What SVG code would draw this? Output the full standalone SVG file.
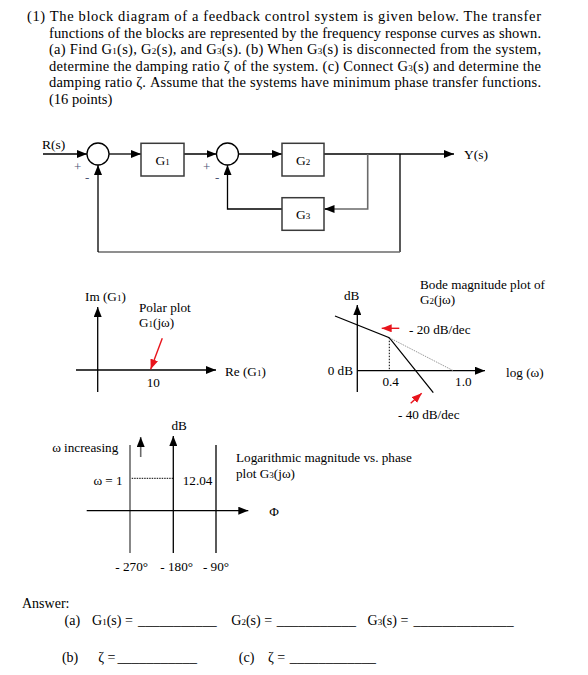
<svg xmlns="http://www.w3.org/2000/svg" width="588" height="675" viewBox="0 0 588 675">
<style>
text{font-family:"Liberation Serif","Times New Roman",serif;fill:#000}
.p{font-size:14.5px}
.m{font-size:13.5px}
.an{font-size:14px}
.sm{font-size:13.2px}
.sub{font-size:9px}
.ln{stroke:#000;stroke-width:1.3;fill:none}
.gr{stroke:#6a6a6a;stroke-width:1.6;fill:none}
.bx{fill:#fff;stroke:#3a3a3a;stroke-width:1.5}
.red{stroke:#e8141c;stroke-width:1.4;fill:none}
.sg{fill:#4a5575;font-size:13px}
</style>
<defs>
<marker id="a" markerUnits="userSpaceOnUse" markerWidth="10" markerHeight="8" refX="10" refY="4" orient="auto"><path d="M0,0 L10,4 L0,8 z" fill="#000"/></marker>
<marker id="r" markerUnits="userSpaceOnUse" markerWidth="10" markerHeight="8" refX="10" refY="4" orient="auto"><path d="M0,0 L10,4 L0,8 z" fill="#e8141c"/></marker>
</defs>

<g id="title" class="p">
<text x="27" y="21" textLength="514" lengthAdjust="spacing">(1) The block diagram of a feedback control system is given below. The transfer</text>
<text x="49" y="37.5" textLength="492" lengthAdjust="spacing">functions of the blocks are represented by the frequency response curves as shown.</text>
<text x="49" y="54" textLength="492" lengthAdjust="spacing">(a) Find G<tspan class="sub">1</tspan>(s), G<tspan class="sub">2</tspan>(s), and G<tspan class="sub">3</tspan>(s). (b) When G<tspan class="sub">3</tspan>(s) is disconnected from the system,</text>
<text x="49" y="70.5" textLength="492" lengthAdjust="spacing">determine the damping ratio ζ of the system. (c) Connect G<tspan class="sub">3</tspan>(s) and determine the</text>
<text x="49" y="87" textLength="492" lengthAdjust="spacing">damping ratio ζ. Assume that the systems have minimum phase transfer functions.</text>
<text x="49" y="103.5">(16 points)</text>
</g>

<g id="connectors">
<path class="ln" d="M43,154 H87" marker-end="url(#a)"/>
<path class="ln" d="M109,154 H141" marker-end="url(#a)"/>
<path class="ln" d="M184,154 H216.5" marker-end="url(#a)"/>
<path class="ln" d="M238.5,154 H282" marker-end="url(#a)"/>
<path class="ln" d="M324,154 H454" marker-end="url(#a)"/>
<path class="gr" d="M367.7,154 V209 H325"/>
<path class="ln" d="M330,209 H324.5" marker-end="url(#a)"/>
<path class="ln" d="M282,209 H227.5 V165" marker-end="url(#a)"/>
<path class="ln" d="M400,154 V252"/>
<path class="gr" d="M400,252 H98"/>
<path class="ln" d="M98,252 V165" marker-end="url(#a)"/>
</g>

<g id="input"><text class="m" x="42" y="149">R(s)</text></g>
<g id="sum1">
<circle cx="98" cy="154" r="11" fill="#fff" stroke="#000" stroke-width="1.3"/>
<text class="sg" x="74" y="171">+</text>
<text class="sg" x="85" y="182">-</text>
</g>
<g id="G1">
<rect class="bx" x="141" y="143.3" width="43" height="32.7"/>
<text class="m" x="162.5" y="164.5" text-anchor="middle">G<tspan class="sub">1</tspan></text>
</g>
<g id="sum2">
<circle cx="227.5" cy="154" r="11" fill="#fff" stroke="#000" stroke-width="1.3"/>
<text class="sg" x="203" y="171">+</text>
<text class="sg" x="215" y="182">-</text>
</g>
<g id="G2">
<rect class="bx" x="282" y="143.3" width="42" height="32.7"/>
<text class="m" x="303" y="164.5" text-anchor="middle">G<tspan class="sub">2</tspan></text>
</g>
<g id="G3">
<rect class="bx" x="282" y="197.7" width="42" height="32.6"/>
<text class="m" x="303" y="218.5" text-anchor="middle">G<tspan class="sub">3</tspan></text>
</g>
<g id="output"><text class="m" x="464" y="159">Y(s)</text></g>

<g id="polar">
<path class="ln" d="M97.7,392 V307" marker-end="url(#a)"/>
<path class="ln" d="M76,370 H216" marker-end="url(#a)"/>
<path class="red" d="M162.3,338.3 L150.7,369.3" marker-end="url(#r)"/>
<text class="sm" x="85" y="300.5">Im (G<tspan class="sub">1</tspan>)</text>
<text class="sm" x="139" y="312">Polar plot</text>
<text class="sm" x="139" y="327">G<tspan class="sub">1</tspan>(jω)</text>
<text class="sm" x="225" y="376">Re (G<tspan class="sub">1</tspan>)</text>
<text class="sm" x="153.3" y="386.5" text-anchor="middle">10</text>
</g>

<g id="bode">
<path class="ln" d="M357.3,392 V305" marker-end="url(#a)"/>
<path class="ln" d="M357.3,370.7 H485" marker-end="url(#a)"/>
<path class="ln" d="M335,316 L389.3,337.7 L433.3,392.7"/>
<path d="M389.3,337.7 L453.3,370.7" stroke="#999" stroke-width="1" stroke-dasharray="1.5,1" fill="none"/>
<path d="M389.3,337.7 V370.7" stroke="#000" stroke-width="1" stroke-dasharray="1.5,1.5" fill="none"/>
<path class="red" d="M399.3,328.3 H381.7" marker-end="url(#r)"/>
<path class="red" d="M410.7,403.3 L421.7,393.3" marker-end="url(#r)"/>
<text class="sm" x="344" y="299.5">dB</text>
<text class="sm" x="420" y="289">Bode magnitude plot of</text>
<text class="sm" x="420" y="304">G<tspan class="sub">2</tspan>(jω)</text>
<text class="sm" x="409" y="333.5">- 20 dB/dec</text>
<text class="sm" x="353" y="375" text-anchor="end">0 dB</text>
<text class="sm" x="390.7" y="386" text-anchor="middle">0.4</text>
<text class="sm" x="463.3" y="386" text-anchor="middle">1.0</text>
<text class="sm" x="506" y="377">log (ω)</text>
<text class="sm" x="398" y="418.5">- 40 dB/dec</text>
</g>

<g id="gainphase">
<path class="ln" d="M173.3,553 V436" marker-end="url(#a)"/>
<path class="gr" d="M130,445 V553"/>
<path class="ln" d="M216,445 V553"/>
<path class="ln" d="M86.7,510.7 H248.3" marker-end="url(#a)"/>
<path class="gr" d="M140.7,457 V437" marker-end="url(#a)"/>
<path d="M131.7,478.3 H173.3" stroke="#000" stroke-width="1" stroke-dasharray="1.5,1" fill="none"/>
<text class="sm" x="171.5" y="429.5">dB</text>
<text class="sm" x="118.3" y="452" text-anchor="end">ω increasing</text>
<text class="sm" x="122.7" y="484.5" text-anchor="end">ω = 1</text>
<text class="sm" x="182.7" y="484.5">12.04</text>
<text class="sm" x="236" y="462">Logarithmic magnitude vs. phase</text>
<text class="sm" x="236" y="477.5">plot G<tspan class="sub">3</tspan>(jω)</text>
<text class="sm" x="269.3" y="515.5">Φ</text>
<text class="sm" x="131.7" y="570.5" text-anchor="middle">- 270°</text>
<text class="sm" x="176.7" y="570.5" text-anchor="middle">- 180°</text>
<text class="sm" x="216" y="570.5" text-anchor="middle">- 90°</text>
</g>

<g id="answer" class="an">
<text x="22" y="607.5">Answer:</text>
<text x="64.5" y="624.5">(a)</text>
<text x="92" y="624.5">G<tspan class="sub">1</tspan>(s) =</text>
<text x="138" y="624.5" textLength="78.7" lengthAdjust="spacingAndGlyphs">___________</text>
<text x="231.3" y="624.5">G<tspan class="sub">2</tspan>(s) =</text>
<text x="276.7" y="624.5" textLength="79.3" lengthAdjust="spacingAndGlyphs">___________</text>
<text x="367.5" y="624.5">G<tspan class="sub">3</tspan>(s) =</text>
<text x="413.6" y="624.5" textLength="100" lengthAdjust="spacingAndGlyphs">______________</text>
<text x="61.9" y="662">(b)</text>
<text x="98.2" y="662">ζ =</text>
<text x="117.4" y="662" textLength="79.5" lengthAdjust="spacingAndGlyphs">___________</text>
<text x="238.8" y="662">(c)</text>
<text x="268" y="662">ζ =</text>
<text x="289.8" y="662" textLength="86.2" lengthAdjust="spacingAndGlyphs">____________</text>
</g>
</svg>
